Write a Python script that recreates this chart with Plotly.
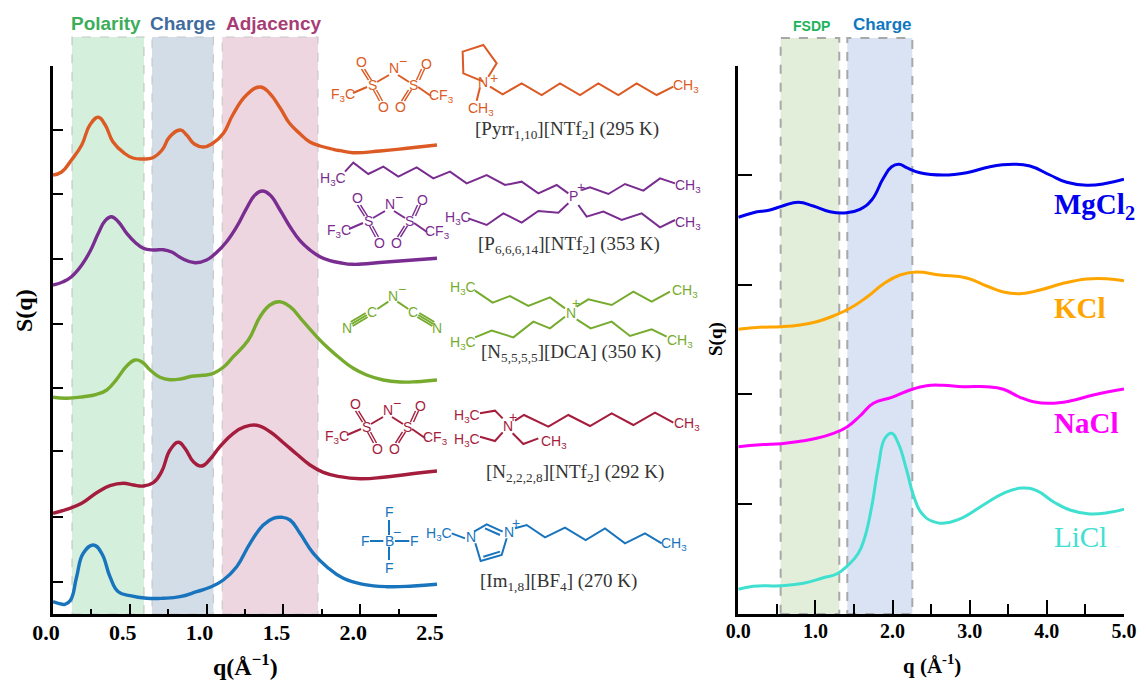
import plotly.graph_objects as go

W, H = 1139, 680
SERIF = "Liberation Serif"
SANS = "Liberation Sans"

# ---------- left panel data ----------
pyrr_q = [0,.056,.12,.187,.24,.295,.34,.39,.46,.52,.59,.65,.71,.76,.83,.87,.92,.98,1.04,1.11,1.17,1.26,1.35,1.41,1.48,1.54,1.61,1.67,1.74,1.825,1.87,1.95,2.13,2.32,2.5]
pyrr_s = [43.9,44.2,45.4,46.9,48.9,49.67,48.9,47.23,46.13,45.6,45.5,45.63,46.4,47.73,48.4,47.9,47.0,46.7,47.07,48.07,49.9,51.9,52.7,52.07,50.57,49.07,48.0,47.23,46.8,46.47,46.33,46.13,46.3,46.6,46.9]
p666_q = [0,.067,.12,.187,.24,.295,.34,.38,.425,.48,.534,.588,.653,.718,.773,.838,.924,1.0,1.066,1.13,1.196,1.26,1.315,1.363,1.413,1.478,1.543,1.608,1.673,1.738,1.803,1.868,1.95,2.17,2.5]
p666_s = [32.9,33.23,33.73,34.9,36.23,38.07,39.33,39.73,39.23,38.07,37.17,36.57,36.4,36.43,36.2,35.57,35.13,35.4,36.17,37.23,38.73,40.57,41.9,42.3,41.9,40.4,38.73,37.33,36.4,35.73,35.33,35.13,34.97,35.2,35.57]
n5555_q = [0,.089,.197,.284,.35,.414,.48,.534,.577,.632,.697,.762,.838,.903,.979,1.044,1.109,1.174,1.272,1.348,1.413,1.474,1.543,1.63,1.727,1.793,1.868,1.955,2.042,2.15,2.26,2.368,2.5]
n5555_s = [21.67,21.57,21.73,21.97,22.4,23.47,24.8,25.4,25.23,24.4,23.67,23.43,23.53,23.77,23.87,24.07,24.67,25.73,27.4,29.73,30.9,31.23,30.73,29.23,27.57,26.57,25.57,24.57,23.9,23.4,23.2,23.23,23.4]
n2228_q = [0,.089,.187,.284,.371,.458,.523,.588,.653,.707,.762,.816,.859,.914,.968,1.022,1.087,1.174,1.25,1.326,1.413,1.5,1.586,1.673,1.76,1.868,1.999,2.15,2.324,2.5]
n2228_s = [10.07,10.47,11.07,12.13,12.83,13.07,12.9,12.8,13.13,14.23,16.4,17.17,16.57,15.23,14.8,15.47,16.73,18.07,18.73,18.87,18.23,17.13,16.0,14.9,14.17,13.73,13.53,13.67,14.0,14.3]
im18_q = [0,.035,.078,.115,.154,.197,.263,.317,.371,.425,.501,.61,.718,.827,.935,1.022,1.109,1.196,1.283,1.369,1.434,1.489,1.543,1.608,1.695,1.782,1.89,2.02,2.172,2.346,2.5]
im18_s = [1.23,1.07,.97,1.4,3.73,6.07,6.9,6.07,3.73,2.23,1.83,1.57,1.57,1.73,2.23,2.67,3.4,4.73,7.07,8.9,9.57,9.67,9.4,8.07,6.07,4.73,3.57,2.97,2.73,2.8,2.97]
left_yticks = [3.2,9.7,16.3,22.6,29.0,35.5,42.0,48.4,54.8]

# ---------- right panel data ----------
mg_q = [0,.194,.41,.583,.778,.972,1.188,1.404,1.577,1.729,1.88,1.988,2.083,2.182,2.355,2.658,2.96,3.263,3.565,3.781,4.04,4.257,4.516,4.775,5.0]
mg_s = [39.67,40.13,40.4,40.83,41.17,40.8,40.23,40.13,40.47,41.4,43.57,44.73,44.97,44.63,44.13,43.9,44.13,44.73,44.97,44.8,43.9,43.17,42.87,43.07,43.47]
k_q = [0,.281,.562,.8,1.016,1.232,1.448,1.664,1.88,2.096,2.312,2.615,2.96,3.22,3.436,3.652,3.911,4.213,4.516,4.775,5.0]
k_s = [28.47,28.67,28.73,28.9,29.23,29.8,30.57,31.67,33.0,33.9,34.2,33.9,33.6,32.8,32.2,32.03,32.4,33.07,33.5,33.53,33.33]
na_q = [0,.281,.562,.8,1.016,1.232,1.404,1.577,1.75,1.988,2.226,2.442,2.658,2.917,3.22,3.436,3.652,3.825,4.04,4.3,4.603,5.0]
na_s = [16.73,16.93,17.03,17.27,17.57,18.07,18.67,19.8,21.07,21.67,22.4,22.83,22.87,22.73,22.73,22.47,21.67,21.23,21.07,21.3,21.9,22.5]
li_q = [0,.194,.54,.843,1.102,1.275,1.426,1.556,1.642,1.729,1.815,1.901,1.988,2.074,2.182,2.269,2.377,2.528,2.701,2.917,3.176,3.436,3.673,3.868,4.084,4.3,4.559,4.818,5.0]
li_s = [2.47,2.77,2.83,3.07,3.63,4.0,4.9,6.07,7.73,10.73,14.73,17.57,18.07,17.07,14.4,11.9,10.07,9.23,9.13,9.67,10.9,12.07,12.6,12.33,11.23,10.4,10.0,10.17,10.47]
right_yticks = [11.0,22.0,32.9,43.9,54.8]

ORANGE, PURPLE, GREEN, RED, BLUE = "#dc5a23", "#7a2d90", "#76ab2e", "#a51d3c", "#1874bd"
CH3 = "CH<sub>3</sub>"
H3C = "H<sub>3</sub>C"

fig = go.Figure()
for q, s, c in [(pyrr_q, pyrr_s, ORANGE), (p666_q, p666_s, PURPLE), (n5555_q, n5555_s, GREEN),
                (n2228_q, n2228_s, RED), (im18_q, im18_s, BLUE)]:
    fig.add_trace(go.Scatter(x=q, y=s, mode="lines", xaxis="x", yaxis="y", showlegend=False,
                             line=dict(color=c, width=3.4, shape="spline", smoothing=1.3)))
for q, s, c in [(mg_q, mg_s, "#0000ee"), (k_q, k_s, "#ffa500"), (na_q, na_s, "#ff00ff"), (li_q, li_s, "#40e0d0")]:
    fig.add_trace(go.Scatter(x=q, y=s, mode="lines", xaxis="x2", yaxis="y2", showlegend=False,
                             line=dict(color=c, width=3, shape="spline", smoothing=1.3)))

shapes, annos = [], []
px = lambda x: x / W
py = lambda y: 1 - y / H

def text(x, y, s, color, size, font=SANS, bold=False, **kw):
    t = f"<b>{s}</b>" if bold else s
    annos.append(dict(xref="paper", yref="paper", x=px(x), y=py(y), text=t, showarrow=False,
                      font=dict(family=font, size=size, color=color),
                      xanchor=kw.get("xanchor", "center"), yanchor="middle",
                      textangle=kw.get("angle", 0)))

def band(xref, q0, q1, top, fill, edge, w):
    shapes.append(dict(type="rect", xref=xref, yref="paper", x0=q0, x1=q1, y0=py(614), y1=py(top),
                       fillcolor=fill, layer="below", line=dict(color=edge, width=w, dash="dash")))

band("x", .124, .592, 37, "#d4efdc", "#c4c8c4", 1.2)
band("x", .645, 1.044, 37, "#d3dde8", "#c4c8cc", 1.2)
band("x", 1.102, 1.725, 37, "#eed6e1", "#c8c8c8", 1.2)
band("x2", .549, 1.309, 38, "#e3eeda", "#a8a8a8", 2)
band("x2", 1.413, 2.256, 38, "#d9e3f3", "#a8a8a8", 2)

def bond(pts, color, w=2):
    path = "M " + " L ".join(f"{px(a):.5f},{py(b):.5f}" for a, b in pts)
    shapes.append(dict(type="path", xref="paper", yref="paper", path=path, layer="above",
                       line=dict(color=color, width=w)))

def chain(zpts, ox, oy, color):
    bond([(ox + a / 3, oy + b / 3) for a, b in zpts], color)

def ztext(zx, zy, s, ox, oy, color, size=14):
    text(ox + zx / 3, oy + zy / 3, s, color, size)

def caption(zx, zy, s, ox, oy):
    text(ox + zx / 3, oy + zy / 3, s, "#333333", 19, SERIF)

def ntf2(cx, cy, c):
    for a, b in [((-41, 25), (-27, 19)), ((-17, 14), (-5, 7)), ((4, 7), (15, 14)), ((24, 19), (37, 28))]:
        bond([(cx + a[0], cy + a[1]), (cx + b[0], cy + b[1])], c)
    for a, b in [((-24, 12), (-31, 1)), ((24, 12), (29, 1)), ((-19, 22), (-13, 33)), ((16, 22), (9, 33))]:
        for d in (-1.5, 1.5):
            bond([(cx + a[0] + d, cy + a[1]), (cx + b[0] + d, cy + b[1])], c, 1.4)
    for dx, dy, s in [(-51, 27, "F<sub>3</sub>C"), (-22, 17, "S"), (19, 17, "S"), (47, 28, "CF<sub>3</sub>"),
                      (-33, -6, "O"), (32, -4, "O"), (-11, 39, "O"), (6, 39, "O"), (0, 0, "N"), (9, -7, "−")]:
        text(cx + dx, cy + dy, s, c, 14)

# [Pyrr1,10][NTf2]
ntf2(394, 68, ORANGE)
O1 = (320, 30)
chain([(490,155),(430,130),(428,65),(490,45),(530,100),(505,140)], *O1, ORANGE)
chain([(510,170),(548,193),(605,160),(665,195),(720,160),(780,195),(835,160),(895,195),(950,160),(1010,195),(1060,170)], *O1, ORANGE)
chain([(480,172),(470,212)], *O1, ORANGE)
ztext(490,155,"N",*O1,ORANGE); ztext(522,143,"+",*O1,ORANGE)
ztext(1098,168,CH3,*O1,ORANGE); ztext(483,238,CH3,*O1,ORANGE)
caption(740,300,"[Pyrr<sub>1,10</sub>][NTf<sub>2</sub>] (295 K)",*O1)

# [P6,6,6,14][NTf2]
ntf2(390, 204, PURPLE)
chain([(75,425),(100,398),(145,432),(190,410),(235,440),(290,412),(340,445),(390,425),(440,460),(500,435),(555,465),(605,455),(655,490),(710,465),(745,490)], *O1, PURPLE)
chain([(785,480),(810,472),(865,492),(915,462),(970,482),(1020,445),(1065,460)], *O1, PURPLE)
chain([(775,525),(800,560),(850,545),(905,570),(965,550),(1020,592),(1065,570)], *O1, PURPLE)
chain([(745,520),(715,548),(655,543),(605,578),(550,550),(500,585),(445,565)], *O1, PURPLE)
ztext(40,448,H3C,*O1,PURPLE); ztext(760,497,"P",*O1,PURPLE); ztext(782,470,"+",*O1,PURPLE)
ztext(1105,468,CH3,*O1,PURPLE); ztext(1103,578,CH3,*O1,PURPLE); ztext(415,563,H3C,*O1,PURPLE)
caption(748,645,"[P<sub>6,6,6,14</sub>][NTf<sub>2</sub>] (353 K)",*O1)

# [N5,5,5,5][DCA]
O2 = (320, 260)
chain([(205,125),(172,147)], *O2, GREEN); chain([(232,125),(265,147)], *O2, GREEN)
for d in (-6, 0, 6):
    chain([(140+d*.5,165+d),(95+d*.5,192+d)], *O2, GREEN)
    chain([(295-d*.5,165+d),(340-d*.5,192+d)], *O2, GREEN)
for zx, zy, s in [(218,108,"N"),(245,88,"−"),(155,155,"C"),(278,155,"C"),(80,205,"N"),(352,205,"N")]:
    ztext(zx, zy, s, *O2, GREEN)
chain([(465,92),(518,128),(570,108),(625,138),(690,112),(735,145)], *O2, GREEN)
chain([(770,140),(805,118),(875,135),(940,95),(995,125),(1050,95)], *O2, GREEN)
chain([(735,170),(690,205),(640,185),(580,232),(515,212),(465,232)], *O2, GREEN)
chain([(770,178),(812,205),(875,185),(930,228),(995,208),(1040,230)], *O2, GREEN)
for zx, zy, s in [(430,85,H3C),(428,248,H3C),(1095,93,CH3),(1080,243,CH3),(752,160,"N"),(767,128,"+")]:
    ztext(zx, zy, s, *O2, GREEN)
caption(752,280,"[N<sub>5,5,5,5</sub>][DCA] (350 K)",*O2)

# [N2,2,2,8][NTf2]
ntf2(388, 410, RED)
chain([(480,460),(525,452),(548,475)], *O2, RED)
chain([(480,530),(525,543),(548,517)], *O2, RED)
chain([(578,520),(610,552),(655,535)], *O2, RED)
chain([(585,482),(612,465),(685,500),(745,465),(810,498),(875,460),(940,495),(1005,458),(1060,488)], *O2, RED)
for zx, zy, s in [(440,468,H3C),(440,540,H3C),(703,546,CH3),(1100,491,CH3),(563,497,"N"),(578,470,"+")]:
    ztext(zx, zy, s, *O2, RED)
caption(765,638,"[N<sub>2,2,2,8</sub>][NTf<sub>2</sub>] (292 K)",*O2)

# [Im1,8][BF4]
for seg in [[(207,780),(207,825)],[(207,860),(207,900)],[(150,843),(190,843)],[(225,843),(268,843)],
            [(395,820),(435,835)],[(462,815),(500,793),(548,815)],[(495,805),(540,825)],
            [(466,850),(482,903),(545,885),(560,835)],[(490,890),(540,875)],
            [(585,805),(620,795),(675,832),(735,803),(797,840),(855,805),(915,850),(975,820),(1025,850)]]:
    chain(seg, *O2, BLUE)
for zx, zy, s in [(207,843,"B"),(207,755,"F"),(207,925,"F"),(135,843,"F"),(282,843,"F"),(230,815,"−"),
                  (357,823,H3C),(452,832,"N"),(568,815,"N"),(587,788,"+"),(1062,851,CH3)]:
    ztext(zx, zy, s, *O2, BLUE)
caption(715,965,"[Im<sub>1,8</sub>][BF<sub>4</sub>] (270 K)",*O2)

# band titles
text(105.5, 24, "Polarity", "#3cae5a", 19, bold=True)
text(182, 24, "Charge", "#3f6c9f", 19, bold=True)
text(273, 24, "Adjacency", "#a83d75", 19, bold=True)
text(811, 26, "FSDP", "#1db45c", 14, bold=True)
text(882, 25, "Charge", "#0f78c0", 17, bold=True)

# axis titles
text(245, 665, "q(Å<sup>−1</sup>)", "black", 24, SERIF, True)
text(24, 311, "S(q)", "black", 24, SERIF, True, angle=-90)
text(932, 664, "q (Å<sup>-1</sup>)", "black", 21, SERIF, True)
text(716, 339, "S(q)", "black", 19, SERIF, True, angle=-90)

# series labels
text(1052, 206, "MgCl<sub>2</sub>", "#0000ee", 29, SERIF, True, xanchor="left")
text(1052, 308, "KCl", "#ffa500", 29, SERIF, True, xanchor="left")
text(1052, 423, "NaCl", "#ff00ff", 29, SERIF, True, xanchor="left")
text(1052, 537, "LiCl", "#40e0d0", 29, SERIF, False, xanchor="left")

def xax(dom, rng, major, minor, size, mlen, nlen, shift, anchor):
    return dict(domain=dom, range=rng, anchor=anchor, tick0=0, dtick=major, tickformat=".1f", ticks="inside",
                ticklen=mlen, tickwidth=2, tickcolor="black", showline=True, linecolor="black", linewidth=2.5,
                showgrid=False, zeroline=False, ticklabelshift=shift, ticklabelstandoff=-3,
                tickfont=dict(family=SERIF, size=size, color="black", weight="bold"),
                minor=dict(dtick=minor, tick0=0, ticks="inside", ticklen=nlen, tickwidth=2, tickcolor="black", showgrid=False))

def yax(vals, tlen, anchor):
    return dict(domain=[py(614), py(66)], range=[0, 54.8], anchor=anchor, tickvals=vals, ticks="inside", ticklen=tlen,
                tickwidth=2, tickcolor="black", showticklabels=False, showline=True, linecolor="black", linewidth=2.5,
                showgrid=False, zeroline=False)

fig.update_layout(
    width=W, height=H, margin=dict(l=0, r=0, t=0, b=0, autoexpand=False), autosize=False,
    paper_bgcolor="white", plot_bgcolor="rgba(0,0,0,0)", showlegend=False,
    xaxis=xax([px(53), px(437)], [0, 2.5], .5, .25, 22, 10, 5, -7, "y"),
    yaxis=yax(left_yticks, 10, "x"),
    xaxis2=xax([px(738.3), px(1124)], [0, 5], 1, .5, 20, 14, 10, 0, "y2"),
    yaxis2=yax(right_yticks, 14, "x2"),
    shapes=shapes, annotations=annos,
)
fig.write_html("out.html", config=dict(displayModeBar=False),
               post_script="document.body.style.margin='0';document.body.style.overflow='hidden';")
